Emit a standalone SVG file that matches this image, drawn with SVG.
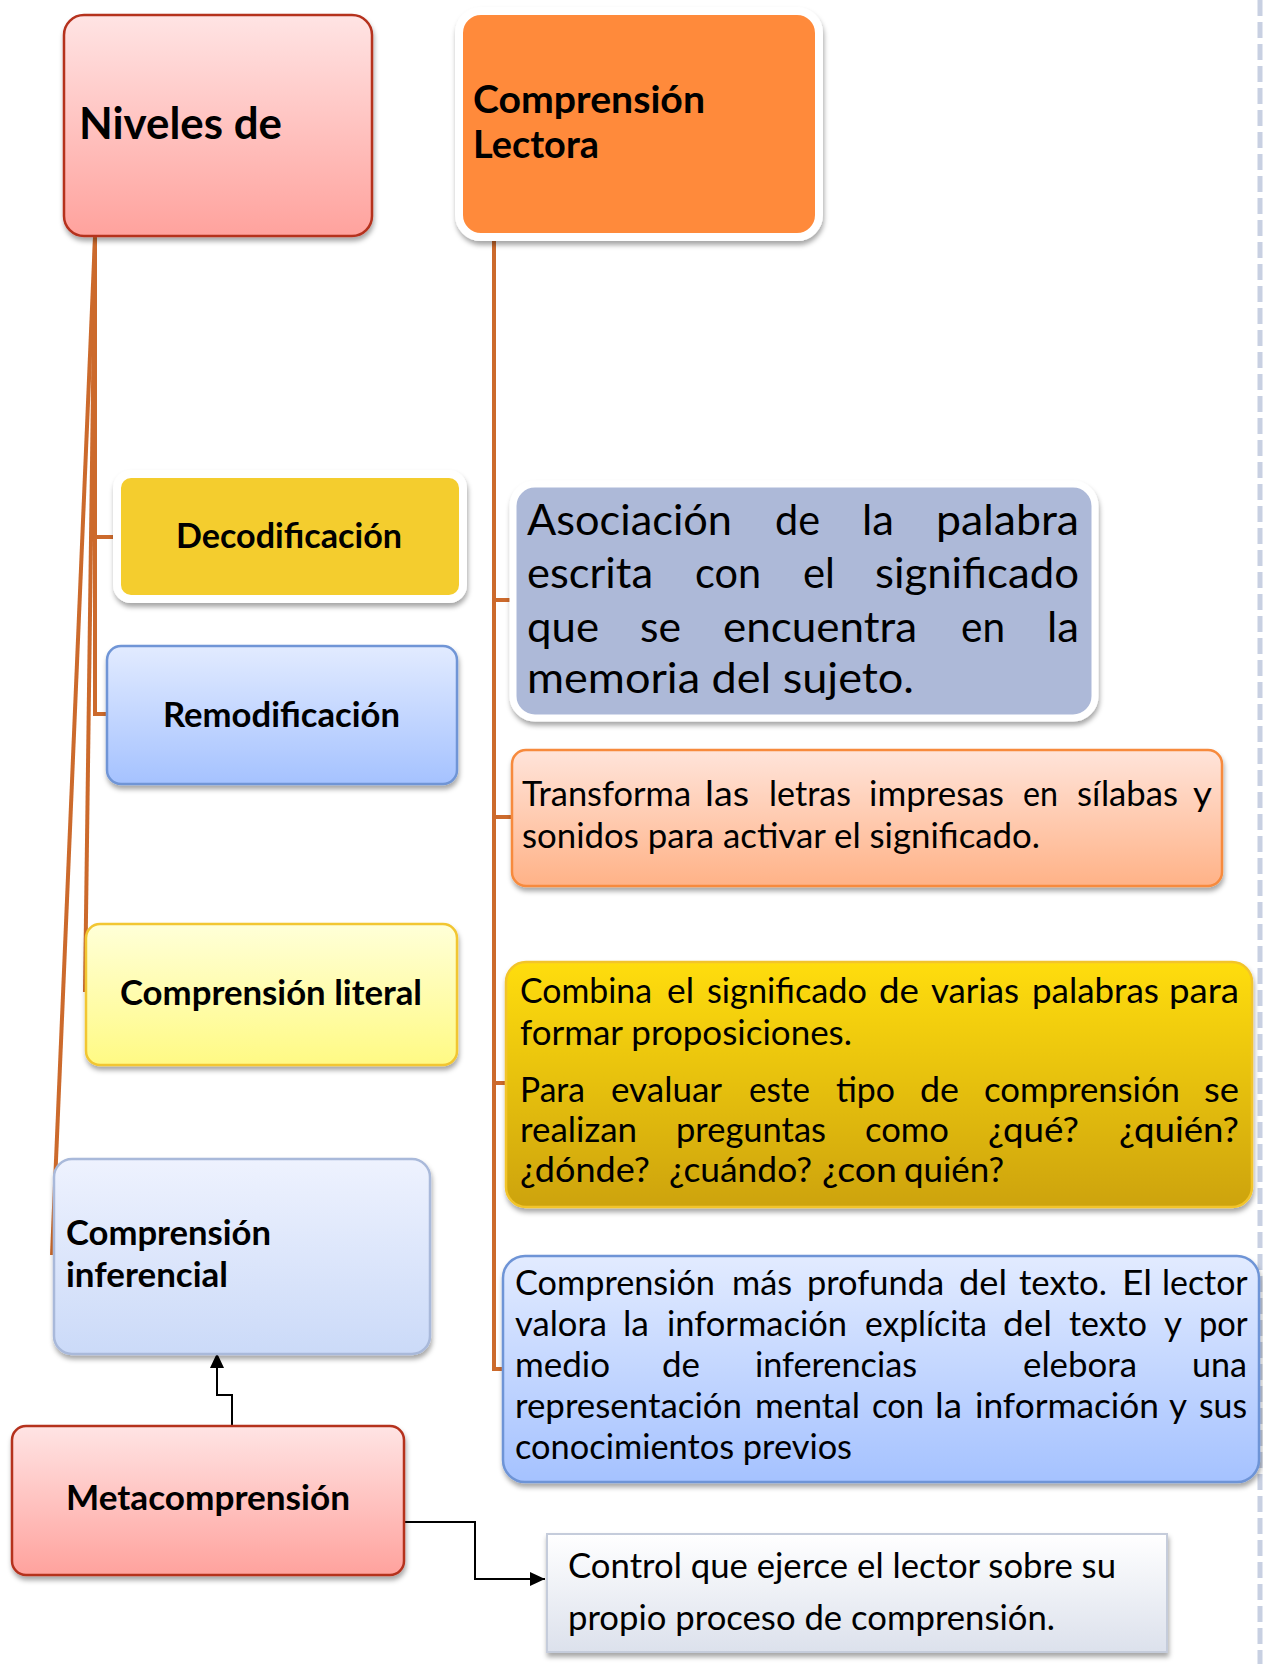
<svg xmlns="http://www.w3.org/2000/svg" width="1263" height="1664" viewBox="0 0 1263 1664">
<defs>
<style>
.b{font-family:Lato,"Liberation Sans",sans-serif;font-weight:bold;fill:#000}
.r{font-family:Lato,"Liberation Sans",sans-serif;font-weight:normal;fill:#000}
.org{stroke:#CC6A2C;stroke-width:4;fill:none}
.blk{stroke:#000;stroke-width:2;fill:none}
</style>
<filter id="sh" x="-10%" y="-10%" width="125%" height="130%">
<feDropShadow dx="1" dy="4" stdDeviation="2.5" flood-color="#000" flood-opacity="0.35"/>
</filter>
<linearGradient id="gPink" x1="0" y1="0" x2="0" y2="1"><stop offset="0" stop-color="#FFE4E4"/><stop offset="1" stop-color="#FFA29D"/></linearGradient>
<linearGradient id="gBlue" x1="0" y1="0" x2="0" y2="1"><stop offset="0" stop-color="#E2EBFF"/><stop offset="1" stop-color="#A5C2FF"/></linearGradient>
<linearGradient id="gYel" x1="0" y1="0" x2="0" y2="1"><stop offset="0" stop-color="#FFFFD8"/><stop offset="1" stop-color="#FFFA84"/></linearGradient>
<linearGradient id="gLav" x1="0" y1="0" x2="0" y2="1"><stop offset="0" stop-color="#EEF2FE"/><stop offset="1" stop-color="#CBDAF8"/></linearGradient>
<linearGradient id="gPeach" x1="0" y1="0" x2="0" y2="1"><stop offset="0" stop-color="#FFE4DA"/><stop offset="1" stop-color="#FFB287"/></linearGradient>
<linearGradient id="gGold" x1="0" y1="0" x2="0" y2="1"><stop offset="0" stop-color="#FFDD0C"/><stop offset="1" stop-color="#CDA30A"/></linearGradient>
<linearGradient id="gGray" x1="0" y1="0" x2="0" y2="1"><stop offset="0" stop-color="#FFFFFF"/><stop offset="1" stop-color="#DCE1EC"/></linearGradient>
<marker id="ah" markerUnits="userSpaceOnUse" markerWidth="16" markerHeight="14" refX="15" refY="7" orient="auto">
<path d="M0,0 L15,7 L0,14 Z" fill="#000"/>
</marker>
</defs>
<rect width="1263" height="1664" fill="#FFFFFF"/>
<line x1="1260" y1="0" x2="1260" y2="1664" stroke="#C8D0E2" stroke-width="5" stroke-dasharray="16 6"/>

<g id="connectors">
<path class="org" d="M95,237 V714 H108"/>
<path class="org" d="M95,537 H115"/>
<path class="org" d="M95,237 L85,992"/>
<path class="org" d="M95,237 L52,1255"/>
<path class="org" d="M494,236 V1369 H503"/>
<path class="org" d="M494,600 H511"/>
<path class="org" d="M494,817 H513"/>
<path class="org" d="M494,1083 H507"/>
<path class="blk" d="M232,1440 V1395 H217 V1353" marker-end="url(#ah)"/>
<path class="blk" d="M405,1522 H475 V1579 H545" marker-end="url(#ah)"/>
</g>

<g id="niveles">
<rect x="64" y="15" width="308" height="221" rx="20" fill="url(#gPink)" stroke="#B5301F" stroke-width="2.5" filter="url(#sh)"/>
<text class="b" x="79" y="139" font-size="43" textLength="203" lengthAdjust="spacingAndGlyphs">Niveles de</text>
</g>

<g id="comprension-lectora">
<rect x="459" y="11" width="360" height="226" rx="22" fill="#FF8A3A" stroke="#FFFFFF" stroke-width="8" filter="url(#sh)"/>
<text class="b" font-size="38"><tspan x="473" y="113" textLength="232" lengthAdjust="spacingAndGlyphs">Comprensión</tspan><tspan x="473" y="158" textLength="126" lengthAdjust="spacingAndGlyphs">Lectora</tspan></text>
</g>

<g id="decodificacion">
<rect x="117" y="474" width="346" height="125" rx="14" fill="#F4CD2F" stroke="#FFFFFF" stroke-width="8" filter="url(#sh)"/>
<text class="b" x="176" y="548" font-size="34" textLength="226" lengthAdjust="spacingAndGlyphs">Decodificación</text>
</g>

<g id="remodificacion">
<rect x="107" y="646" width="350" height="138" rx="14" fill="url(#gBlue)" stroke="#6F95D6" stroke-width="2.5" filter="url(#sh)"/>
<text class="b" x="163" y="727" font-size="34" textLength="237" lengthAdjust="spacingAndGlyphs">Remodificación</text>
</g>

<g id="literal">
<rect x="86" y="924" width="371" height="141" rx="14" fill="url(#gYel)" stroke="#F2C631" stroke-width="2.5" filter="url(#sh)"/>
<text class="b" x="120" y="1005" font-size="34" textLength="302" lengthAdjust="spacingAndGlyphs">Comprensión literal</text>
</g>

<g id="inferencial">
<rect x="54" y="1159" width="376" height="195" rx="18" fill="url(#gLav)" stroke="#A9B9DA" stroke-width="2.5" filter="url(#sh)"/>
<text class="b" font-size="34"><tspan x="66" y="1245" textLength="205" lengthAdjust="spacingAndGlyphs">Comprensión</tspan><tspan x="66" y="1287" textLength="162" lengthAdjust="spacingAndGlyphs">inferencial</tspan></text>
</g>

<g id="metacomprension">
<rect x="12" y="1426" width="392" height="149" rx="14" fill="url(#gPink)" stroke="#B5301F" stroke-width="2.5" filter="url(#sh)"/>
<text class="b" x="66" y="1510" font-size="34" textLength="284" lengthAdjust="spacingAndGlyphs">Metacomprensión</text>
</g>

<g id="asociacion">
<rect x="513" y="484" width="582" height="234" rx="22" fill="#ADB9D8" stroke="#FFFFFF" stroke-width="7" filter="url(#sh)"/>
<text class="r" font-size="43">
<tspan x="527" y="535" textLength="205" lengthAdjust="spacingAndGlyphs">Asociación</tspan><tspan x="775" y="535" textLength="45" lengthAdjust="spacingAndGlyphs">de</tspan><tspan x="862" y="535" textLength="32" lengthAdjust="spacingAndGlyphs">la</tspan><tspan x="936" y="535" textLength="143" lengthAdjust="spacingAndGlyphs">palabra</tspan>
<tspan x="527" y="588" textLength="126" lengthAdjust="spacingAndGlyphs">escrita</tspan><tspan x="695" y="588" textLength="66" lengthAdjust="spacingAndGlyphs">con</tspan><tspan x="803" y="588" textLength="32" lengthAdjust="spacingAndGlyphs">el</tspan><tspan x="875" y="588" textLength="204" lengthAdjust="spacingAndGlyphs">significado</tspan>
<tspan x="527" y="642" textLength="72" lengthAdjust="spacingAndGlyphs">que</tspan><tspan x="640" y="642" textLength="41" lengthAdjust="spacingAndGlyphs">se</tspan><tspan x="723" y="642" textLength="194" lengthAdjust="spacingAndGlyphs">encuentra</tspan><tspan x="961" y="642" textLength="44" lengthAdjust="spacingAndGlyphs">en</tspan><tspan x="1047" y="642" textLength="32" lengthAdjust="spacingAndGlyphs">la</tspan>
<tspan x="527" y="693" textLength="387" lengthAdjust="spacingAndGlyphs">memoria del sujeto.</tspan>
</text>
</g>

<g id="transforma">
<rect x="512" y="750" width="710" height="136" rx="14" fill="url(#gPeach)" stroke="#F78A3C" stroke-width="2.5" filter="url(#sh)"/>
<text class="r" font-size="34">
<tspan x="522" y="806" textLength="169" lengthAdjust="spacingAndGlyphs">Transforma</tspan><tspan x="705" y="806" textLength="44" lengthAdjust="spacingAndGlyphs">las</tspan><tspan x="769" y="806" textLength="82" lengthAdjust="spacingAndGlyphs">letras</tspan><tspan x="869" y="806" textLength="135" lengthAdjust="spacingAndGlyphs">impresas</tspan><tspan x="1023" y="806" textLength="35" lengthAdjust="spacingAndGlyphs">en</tspan><tspan x="1077" y="806" textLength="101" lengthAdjust="spacingAndGlyphs">sílabas</tspan><tspan x="1193" y="806" textLength="18" lengthAdjust="spacingAndGlyphs">y</tspan>
<tspan x="522" y="848" textLength="518" lengthAdjust="spacingAndGlyphs">sonidos para activar el significado.</tspan>
</text>
</g>

<g id="combina">
<rect x="506" y="962" width="746" height="245" rx="20" fill="url(#gGold)" stroke="#F2C42C" stroke-width="2.5" filter="url(#sh)"/>
<text class="r" font-size="34">
<tspan x="520" y="1003" textLength="132" lengthAdjust="spacingAndGlyphs">Combina</tspan><tspan x="667" y="1003" textLength="27" lengthAdjust="spacingAndGlyphs">el</tspan><tspan x="707" y="1003" textLength="160" lengthAdjust="spacingAndGlyphs">significado</tspan><tspan x="879" y="1003" textLength="40" lengthAdjust="spacingAndGlyphs">de</tspan><tspan x="931" y="1003" textLength="88" lengthAdjust="spacingAndGlyphs">varias</tspan><tspan x="1032" y="1003" textLength="127" lengthAdjust="spacingAndGlyphs">palabras</tspan><tspan x="1169" y="1003" textLength="70" lengthAdjust="spacingAndGlyphs">para</tspan>
<tspan x="520" y="1045" textLength="332" lengthAdjust="spacingAndGlyphs">formar proposiciones.</tspan>
<tspan x="520" y="1102" textLength="65" lengthAdjust="spacingAndGlyphs">Para</tspan><tspan x="611" y="1102" textLength="111" lengthAdjust="spacingAndGlyphs">evaluar</tspan><tspan x="749" y="1102" textLength="61" lengthAdjust="spacingAndGlyphs">este</tspan><tspan x="836" y="1102" textLength="59" lengthAdjust="spacingAndGlyphs">tipo</tspan><tspan x="920" y="1102" textLength="39" lengthAdjust="spacingAndGlyphs">de</tspan><tspan x="984" y="1102" textLength="196" lengthAdjust="spacingAndGlyphs">comprensión</tspan><tspan x="1204" y="1102" textLength="35" lengthAdjust="spacingAndGlyphs">se</tspan>
<tspan x="520" y="1142" textLength="117" lengthAdjust="spacingAndGlyphs">realizan</tspan><tspan x="676" y="1142" textLength="150" lengthAdjust="spacingAndGlyphs">preguntas</tspan><tspan x="865" y="1142" textLength="84" lengthAdjust="spacingAndGlyphs">como</tspan><tspan x="988" y="1142" textLength="91" lengthAdjust="spacingAndGlyphs">¿qué?</tspan><tspan x="1119" y="1142" textLength="120" lengthAdjust="spacingAndGlyphs">¿quién?</tspan>
<tspan x="520" y="1182" textLength="130" lengthAdjust="spacingAndGlyphs">¿dónde?</tspan><tspan x="669" y="1182" textLength="143" lengthAdjust="spacingAndGlyphs">¿cuándo?</tspan><tspan x="822" y="1182" textLength="75" lengthAdjust="spacingAndGlyphs">¿con</tspan><tspan x="904" y="1182" textLength="100" lengthAdjust="spacingAndGlyphs">quién?</tspan>
</text>
</g>

<g id="comprension-profunda">
<rect x="503" y="1256" width="756" height="226" rx="22" fill="url(#gBlue)" stroke="#6E94D6" stroke-width="2.5" filter="url(#sh)"/>
<text class="r" font-size="34">
<tspan x="515" y="1295" textLength="200" lengthAdjust="spacingAndGlyphs">Comprensión</tspan><tspan x="732" y="1295" textLength="60" lengthAdjust="spacingAndGlyphs">más</tspan><tspan x="807" y="1295" textLength="137" lengthAdjust="spacingAndGlyphs">profunda</tspan><tspan x="959" y="1295" textLength="48" lengthAdjust="spacingAndGlyphs">del</tspan><tspan x="1019" y="1295" textLength="88" lengthAdjust="spacingAndGlyphs">texto.</tspan><tspan x="1122" y="1295" textLength="30" lengthAdjust="spacingAndGlyphs">El</tspan><tspan x="1162" y="1295" textLength="85" lengthAdjust="spacingAndGlyphs">lector</tspan>
<tspan x="515" y="1336" textLength="92" lengthAdjust="spacingAndGlyphs">valora</tspan><tspan x="623" y="1336" textLength="26" lengthAdjust="spacingAndGlyphs">la</tspan><tspan x="667" y="1336" textLength="180" lengthAdjust="spacingAndGlyphs">información</tspan><tspan x="865" y="1336" textLength="122" lengthAdjust="spacingAndGlyphs">explícita</tspan><tspan x="1003" y="1336" textLength="49" lengthAdjust="spacingAndGlyphs">del</tspan><tspan x="1069" y="1336" textLength="78" lengthAdjust="spacingAndGlyphs">texto</tspan><tspan x="1164" y="1336" textLength="18" lengthAdjust="spacingAndGlyphs">y</tspan><tspan x="1199" y="1336" textLength="48" lengthAdjust="spacingAndGlyphs">por</tspan>
<tspan x="515" y="1377" textLength="95" lengthAdjust="spacingAndGlyphs">medio</tspan><tspan x="662" y="1377" textLength="38" lengthAdjust="spacingAndGlyphs">de</tspan><tspan x="755" y="1377" textLength="162" lengthAdjust="spacingAndGlyphs">inferencias</tspan><tspan x="1023" y="1377" textLength="114" lengthAdjust="spacingAndGlyphs">elebora</tspan><tspan x="1192" y="1377" textLength="55" lengthAdjust="spacingAndGlyphs">una</tspan>
<tspan x="515" y="1418" textLength="227" lengthAdjust="spacingAndGlyphs">representación</tspan><tspan x="755" y="1418" textLength="105" lengthAdjust="spacingAndGlyphs">mental</tspan><tspan x="872" y="1418" textLength="52" lengthAdjust="spacingAndGlyphs">con</tspan><tspan x="935" y="1418" textLength="27" lengthAdjust="spacingAndGlyphs">la</tspan><tspan x="975" y="1418" textLength="184" lengthAdjust="spacingAndGlyphs">información</tspan><tspan x="1169" y="1418" textLength="18" lengthAdjust="spacingAndGlyphs">y</tspan><tspan x="1199" y="1418" textLength="48" lengthAdjust="spacingAndGlyphs">sus</tspan>
<tspan x="515" y="1459" textLength="337" lengthAdjust="spacingAndGlyphs">conocimientos previos</tspan>
</text>
</g>

<g id="control">
<rect x="547" y="1534" width="620" height="118" fill="url(#gGray)" stroke="#C5CCDB" stroke-width="2" filter="url(#sh)"/>
<text class="r" font-size="34">
<tspan x="568" y="1578" textLength="548" lengthAdjust="spacingAndGlyphs">Control que ejerce el lector sobre su</tspan>
<tspan x="568" y="1630" textLength="487" lengthAdjust="spacingAndGlyphs">propio proceso de comprensión.</tspan>
</text>
</g>
</svg>
